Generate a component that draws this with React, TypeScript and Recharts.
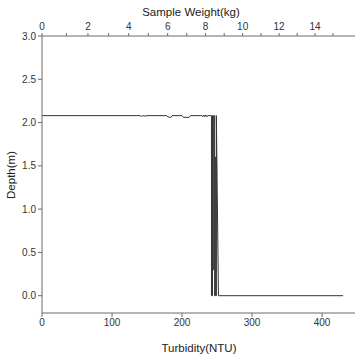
import { LineChart, Line, XAxis, YAxis, Label } from 'recharts'

// turbidity (NTU) vs depth (m) profile, in recorded order
const turbidity = [
  0, 140, 142, 144, 148, 150, 178, 180, 184, 186, 200, 202, 210, 212, 228, 230, 231, 232, 233, 234, 235, 236, 237, 241,
  242, 242, 243.5, 243.5, 244.5, 244.5, 245.5, 245.5, 246.5, 246.5, 247.5, 247.5, 248.5, 248.5, 249, 249, 252, 430,
]
const depth = [
  2.08, 2.08, 2.07, 2.08, 2.075, 2.08, 2.08, 2.065, 2.06, 2.08, 2.08, 2.06, 2.06, 2.08, 2.08, 2.07, 2.085, 2.07, 2.085, 2.07, 2.085, 2.07, 2.08, 2.08,
  2.08, 0, 0, 2.08, 2.08, 0.3, 0.3, 2.08, 2.08, 0, 0, 1.6, 1.6, 0, 0, 2.08, 0, 0,
]

const turbidityTicks = [0, 100, 200, 300, 400]
const depthTicks = [0, 0.5, 1, 1.5, 2, 2.5, 3]
const weightTicks = [0, 1, 2, 3, 4, 5, 6, 7, 8, 9, 10, 11, 12, 13, 14, 15]
const weightLabels = ['0', '', '2', '', '4', '', '6', '', '8', '', '10', '', '12', '', '14', '']

const data = turbidity.map((t, i) => ({ turbidity: t, depth: depth[i] }))

// the top axis is not linear in turbidity units
const kgToNtu = (kg: number) => 390 * Math.pow(kg / 14, 0.916)
const topTicks = weightTicks.map(kgToNtu)

const AXIS = '#6a6a6a'
const FONT = '"Liberation Sans Narrow", "Liberation Sans", Arial, sans-serif'
const TITLE_FONT = '"Liberation Sans", Arial, sans-serif'
const tickStyle = { fontSize: 10, fill: '#333', fontFamily: FONT }

const TopTick = ({ x, y, payload }: any) => {
  const i = topTicks.findIndex((t) => Math.abs(t - payload.value) < 1e-6)
  return (
    <text x={x} y={y - 1} textAnchor="middle" fontSize={10} fill="#333" fontFamily={FONT}>
      {i >= 0 ? weightLabels[i] : ''}
    </text>
  )
}

export default function App() {
  return (
    <div style={{ position: 'absolute', left: 0, top: 0, background: '#fff' }}>
      <LineChart width={355} height={358} data={data} margin={{ top: 0, right: 0, bottom: 0, left: 0 }}>
        <XAxis
          xAxisId="bottom"
          dataKey="turbidity"
          type="number"
          domain={[0, 447]}
          ticks={turbidityTicks}
          height={45}
          stroke={AXIS}
          tickSize={4}
          tick={tickStyle}
          allowDataOverflow
        >
          <Label
            content={() => (
              <text x={199} y={352} textAnchor="middle" fontSize={11.5} fill="#222" fontFamily={TITLE_FONT}>
                Turbidity(NTU)
              </text>
            )}
          />
        </XAxis>
        <XAxis
          xAxisId="top"
          orientation="top"
          dataKey="turbidity"
          type="number"
          domain={[0, 447]}
          ticks={topTicks}
          height={36}
          stroke={AXIS}
          tickSize={3}
          tick={<TopTick />}
          interval={0}
          allowDataOverflow
        >
          <Label
            content={() => (
              <text x={191} y={16} textAnchor="middle" fontSize={11.5} fill="#222" fontFamily={TITLE_FONT}>
                Sample Weight(kg)
              </text>
            )}
          />
        </XAxis>
        <YAxis
          type="number"
          domain={[-0.2, 3]}
          ticks={depthTicks}
          tickFormatter={(v: number) => v.toFixed(1)}
          width={42}
          stroke={AXIS}
          tickSize={4}
          tick={tickStyle}
          interval={0}
          allowDataOverflow
        >
          <Label
            content={() => (
              <text
                x={15}
                y={175}
                textAnchor="middle"
                transform="rotate(-90 15 175)"
                fontSize={11.5}
                fill="#222"
                fontFamily={TITLE_FONT}
              >
                Depth(m)
              </text>
            )}
          />
        </YAxis>
        <Line
          xAxisId="bottom"
          dataKey="depth"
          type="linear"
          stroke="#333"
          strokeWidth={1}
          dot={false}
          isAnimationActive={false}
        />
      </LineChart>
    </div>
  )
}
